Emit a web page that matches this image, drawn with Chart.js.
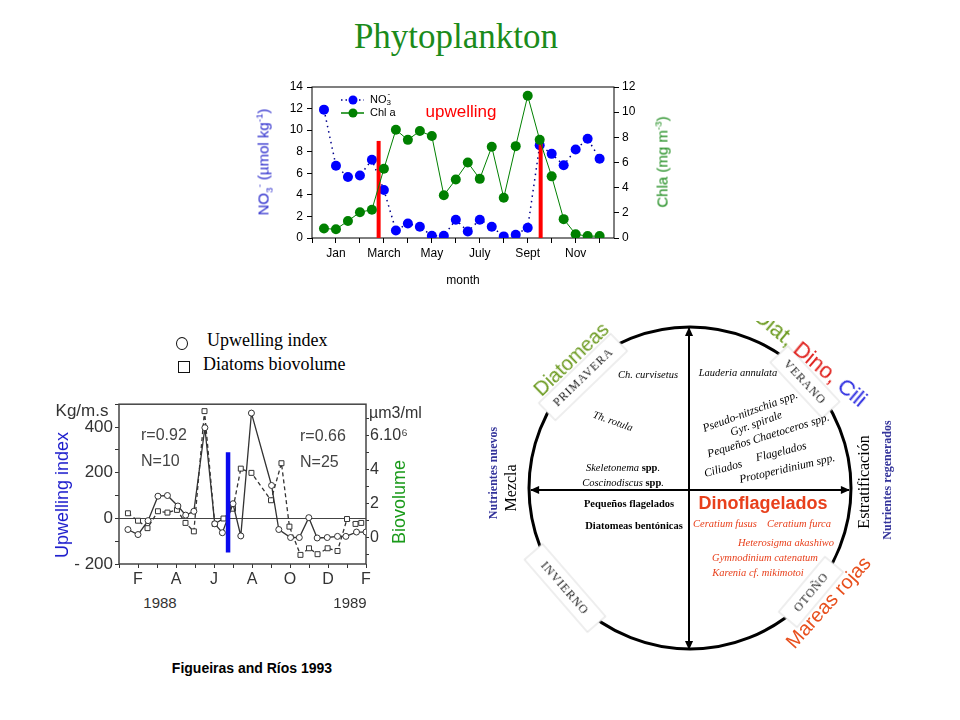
<!DOCTYPE html>
<html lang="es">
<head>
<meta charset="UTF-8">
<title>Phytoplankton</title>
<script src="https://cdn.jsdelivr.net/npm/chart.js"></script>
<style>
  body { margin:0; width:960px; height:720px; background:#fff; position:relative; overflow:hidden; font-family:"Liberation Sans", Arial, sans-serif; }
  .abs { position:absolute; white-space:nowrap; line-height:1; }
  .c { transform:translate(-50%,-50%); }
  .serif { font-family:"Liberation Serif", "Times New Roman", serif; }
  sub, sup { font-size:65%; line-height:0; }
  canvas { position:absolute; }
</style>
</head>
<body>
<div class="abs c serif" style="left:456px;top:36px;font-size:35px;color:#1b8b1b">Phytoplankton</div>

<canvas id="top" width="460" height="225" style="left:230px;top:70px"></canvas>
<div class="abs" style="left:263px;top:162px;transform:translate(-50%,-50%) rotate(-90deg);color:#2a2acc;font-size:15px">NO<sub>3</sub><sup>-</sup> (µmol kg<sup>-1</sup>)</div>
<div class="abs" style="left:662px;top:162px;transform:translate(-50%,-50%) rotate(-90deg);color:#1a8a1a;font-size:15px">Chla (mg m<sup>-3</sup>)</div>
<div class="abs c" style="left:461px;top:111px;color:#ff0000;font-size:17px">upwelling</div>
<div class="abs c" style="left:463px;top:280px;font-size:12px">month</div>

<!-- bottom left: Figueiras and Rios -->
<div class="abs" style="left:176px;top:337px;width:10px;height:11px;border:1px solid #111;border-radius:50%"></div>
<div class="abs serif" style="left:207px;top:331px;font-size:18px">Upwelling index</div>
<div class="abs" style="left:178px;top:361px;width:10px;height:10px;border:1px solid #111"></div>
<div class="abs serif" style="left:203px;top:355px;font-size:18px">Diatoms biovolume</div>
<canvas id="bot" width="400" height="200" style="left:30px;top:392px"></canvas>
<div class="abs c" style="left:82px;top:410px;font-size:17px;color:#333">Kg/m.s</div>
<div class="abs" style="left:369px;top:405px;font-size:16px;color:#333">µm3/ml</div>
<div class="abs" style="left:62px;top:495px;transform:translate(-50%,-50%) rotate(-90deg);color:#1a1acc;font-size:18px">Upwelling index</div>
<div class="abs" style="left:399px;top:502px;transform:translate(-50%,-50%) rotate(-90deg);color:#1a9a1a;font-size:18px">Biovolume</div>
<div class="abs" style="left:141px;top:427px;font-size:16px;color:#444">r=0.92</div>
<div class="abs" style="left:141px;top:453px;font-size:16px;color:#444">N=10</div>
<div class="abs" style="left:300px;top:428px;font-size:16px;color:#444">r=0.66</div>
<div class="abs" style="left:300px;top:454px;font-size:16px;color:#444">N=25</div>
<div class="abs c" style="left:160px;top:602px;font-size:15px;color:#333">1988</div>
<div class="abs c" style="left:350px;top:602px;font-size:15px;color:#333">1989</div>
<div class="abs c" style="left:252px;top:668px;font-size:14px;font-weight:bold">Figueiras and Ríos 1993</div>

<!-- right: seasonal cycle diagram -->
<svg class="abs" style="left:0;top:321px" width="960" height="399" viewBox="0 321 960 399" font-family="Liberation Serif, Times New Roman, serif">
  <defs>
    <marker id="ah" viewBox="0 0 10 10" refX="9" refY="5" markerWidth="10" markerHeight="9" orient="auto-start-reverse" markerUnits="userSpaceOnUse">
      <path d="M0,0.5 L10,5 L0,9.5 z" fill="#000"/>
    </marker>
  </defs>
  <circle cx="690" cy="488" r="161" fill="none" stroke="#000" stroke-width="3"/>
  <line x1="531" y1="490" x2="849" y2="490" stroke="#000" stroke-width="2" marker-start="url(#ah)" marker-end="url(#ah)"/>
  <line x1="689" y1="328" x2="689" y2="649" stroke="#000" stroke-width="2" marker-start="url(#ah)" marker-end="url(#ah)"/>

  <g transform="translate(583,377) rotate(-44)">
    <rect x="-50" y="-12" width="100" height="24" fill="#fff" stroke="#ddd"/>
    <text text-anchor="middle" dominant-baseline="central" font-size="12" letter-spacing="1" fill="#222">PRIMAVERA</text>
  </g>
  <g transform="translate(805,382) rotate(47)">
    <rect x="-38" y="-12" width="76" height="24" fill="#fff" stroke="#ddd"/>
    <text text-anchor="middle" dominant-baseline="central" font-size="12" letter-spacing="1" fill="#222">VERANO</text>
  </g>
  <g transform="translate(565,588) rotate(49)">
    <rect x="-48" y="-12" width="96" height="24" fill="#fff" stroke="#ddd"/>
    <text text-anchor="middle" dominant-baseline="central" font-size="12" letter-spacing="1" fill="#222">INVIERNO</text>
  </g>
  <g transform="translate(811,592) rotate(-50)">
    <rect x="-36" y="-12" width="72" height="24" fill="#fff" stroke="#ddd"/>
    <text text-anchor="middle" dominant-baseline="central" font-size="12" letter-spacing="1" fill="#222">OTOÑO</text>
  </g>

  <g font-family="Liberation Sans, Arial, sans-serif" font-size="20">
    <text transform="translate(571,359) rotate(-44)" text-anchor="middle" dominant-baseline="central" fill="#6b9a1f">Diatomeas</text>
    <text transform="translate(811,357) rotate(40)" text-anchor="middle" dominant-baseline="central" font-size="22"><tspan fill="#6b9a1f">Diat, </tspan><tspan fill="#e0201c">Dino, </tspan><tspan fill="#2a2ae0">Cili</tspan></text>
    <text transform="translate(828,602) rotate(-48)" text-anchor="middle" dominant-baseline="central" fill="#e8501e">Mareas rojas</text>
    <text x="763" y="503" text-anchor="middle" dominant-baseline="central" font-size="18" font-weight="bold" fill="#e8401c">Dinoflagelados</text>
  </g>

  <text transform="translate(493,473) rotate(-90)" text-anchor="middle" dominant-baseline="central" font-size="12" font-weight="bold" fill="#33339a">Nutrientes nuevos</text>
  <text transform="translate(510,488) rotate(-90)" text-anchor="middle" dominant-baseline="central" font-size="16">Mezcla</text>
  <text transform="translate(863,482) rotate(-90)" text-anchor="middle" dominant-baseline="central" font-size="16">Estratificación</text>
  <text transform="translate(887,480) rotate(-90)" text-anchor="middle" dominant-baseline="central" font-size="12" font-weight="bold" fill="#33339a">Nutrientes regenerados</text>

  <g font-size="10.5" font-style="italic" text-anchor="middle" dominant-baseline="central">
    <text x="648" y="374">Ch. curvisetus</text>
    <text x="738" y="372">Lauderia annulata</text>
    <text transform="translate(613,421) rotate(20)">Th. rotula</text>
    <text transform="translate(750,411) rotate(-20)" font-size="11.5">Pseudo-nitzschia spp.</text>
    <text transform="translate(756,423) rotate(-20)" font-size="11.5">Gyr. spirale</text>
    <text transform="translate(768,435) rotate(-17)" font-size="11.5">Pequeños Chaetoceros spp.</text>
    <text transform="translate(781,451) rotate(-14)" font-size="11.5">Flagelados</text>
    <text transform="translate(723,468) rotate(-15)" font-size="11.5">Ciliados</text>
    <text transform="translate(787,468) rotate(-13)" font-size="11.5">Protoperidinium spp.</text>
    <text x="623" y="467">Skeletonema <tspan font-weight="bold" font-style="normal">spp</tspan>.</text>
    <text x="623" y="482">Coscinodiscus <tspan font-weight="bold" font-style="normal">spp</tspan>.</text>
    <text x="629" y="503" font-style="normal" font-weight="bold">Pequeños flagelados</text>
    <text x="634" y="525" font-style="normal" font-weight="bold">Diatomeas bentónicas</text>
    <g fill="#e8401c">
      <text x="725" y="523">Ceratium fusus</text>
      <text x="799" y="523">Ceratium furca</text>
      <text x="786" y="542">Heterosigma akashiwo</text>
      <text x="765" y="557">Gymnodinium catenatum</text>
      <text x="758" y="572">Karenia cf. mikimotoi</text>
    </g>
  </g>
</svg>

<script>
// ---- top chart: NO3 and Chl a, semimonthly samples (x in months) ----
const sampleMonths = [0.5, 1, 1.5, 2, 2.5, 3, 3.5, 4, 4.5, 5, 5.5, 6, 6.5, 7, 7.5, 8, 8.5, 9, 9.5, 10, 10.5, 11, 11.5, 12];
const no3 = [11.9, 6.7, 5.65, 5.8, 7.25, 4.45, 0.7, 1.35, 1.05, 0.2, 0.2, 1.7, 0.6, 1.7, 1.05, 0.15, 0.3, 0.95, 8.6, 7.8, 6.75, 8.2, 9.2, 7.35];
const chla = [0.75, 0.7, 1.35, 2.05, 2.25, 5.5, 8.6, 7.8, 8.5, 8.1, 3.4, 4.65, 6.0, 4.7, 7.25, 3.2, 7.3, 11.3, 7.8, 4.9, 1.5, 0.3, 0.15, 0.15];
const upwellingEvents = [2.78, 9.54];
const upwellingHeight = 9;
const monthLabels = { 1: 'Jan', 3: 'March', 5: 'May', 7: 'July', 9: 'Sept', 11: 'Nov' };

// ---- bottom chart: upwelling index vs diatom biovolume (Figueiras & Rios 1993) ----
const upwMonths = [1.47, 2.0, 2.53, 3.05, 3.55, 4.1, 4.51, 4.94, 5.52, 6.04, 6.44, 7.0, 7.41, 7.97, 9.03, 9.41, 10.03, 10.49, 10.99, 11.43, 11.96, 12.5, 12.94, 13.5, 14.0];
const upwIndex = [-49, -71, -10, 97, 100, 54, 14, 31, 397, -24, -63, 64, -77, 461, 144, -49, -84, -84, 3, -86, -84, -79, -79, -60, -60];
const diaMonths = [1.47, 2.0, 2.5, 3.05, 3.55, 4.05, 4.5, 4.94, 5.5, 6.04, 6.5, 7.0, 7.41, 7.97, 9.0, 9.55, 9.97, 10.55, 11.0, 11.45, 11.98, 12.5, 13.0, 13.45, 13.75];
const diaBiovol = [1.42, 0.98, 0.54, 1.54, 1.46, 1.62, 0.85, 0.35, 7.46, 0.79, 1.11, 1.69, 4.06, 3.81, 2.19, 4.38, 0.63, -1.04, -0.65, -1.0, -0.65, -0.81, 1.08, 0.79, 0.85];
const shiftMonth = 6.74;
const shiftRange = [-150, 290];
const letterLabels = { 2: 'F', 4: 'A', 6: 'J', 8: 'A', 10: 'O', 12: 'D', 14: 'F' };
const leftLabels = { 400: '400', 200: '200', 0: '0', '-200': '- 200' };
const rightLabels = { 0: '0', 2: '2', 4: '4', 6: '6.10⁶' };

Chart.defaults.font.family = '"Liberation Sans", Arial, sans-serif';
const xy = (xs, ys) => xs.map((x, i) => ({ x: x, y: ys[i] }));

function framePlugin(color, width) {
  return {
    id: 'frame',
    beforeDatasetsDraw(chart) {
      const a = chart.chartArea, g = chart.ctx;
      g.save();
      g.strokeStyle = color;
      g.lineWidth = width;
      g.strokeRect(a.left, a.top, a.right - a.left, a.bottom - a.top);
      g.restore();
    }
  };
}

// little legend inside the top plot
const topLegend = {
  id: 'topLegend',
  afterDraw(chart) {
    const g = chart.ctx;
    g.save();
    const rows = [
      { y: 30, line: '#00008b', dash: [1.5, 3], dot: '#0000ff', name: 'NO', sub: '3', sup: '-' },
      { y: 43, line: '#008000', dash: [], dot: '#008000', name: 'Chl a' }
    ];
    rows.forEach(r => {
      g.strokeStyle = r.line; g.lineWidth = 1.5; g.setLineDash(r.dash);
      g.beginPath(); g.moveTo(111, r.y); g.lineTo(134, r.y); g.stroke();
      g.setLineDash([]);
      g.fillStyle = r.dot;
      g.beginPath(); g.arc(123, r.y, 4.5, 0, Math.PI * 2); g.fill();
      g.fillStyle = '#000'; g.textBaseline = 'middle'; g.textAlign = 'left';
      g.font = '11px "Liberation Sans", Arial, sans-serif';
      g.fillText(r.name, 140, r.y);
      if (r.sub) {
        const w = g.measureText(r.name).width;
        g.font = '8px "Liberation Sans", Arial, sans-serif';
        g.fillText(r.sub, 140 + w, r.y + 3);
        g.fillText(r.sup, 140 + w + 1, r.y - 6);
      }
    });
    g.restore();
  }
};

const tickFont = { size: 12 };
new Chart(document.getElementById('top'), {
  type: 'line',
  data: {
    datasets: [
      { label: 'Chl a', data: xy(sampleMonths, chla), yAxisID: 'yR', borderColor: '#008000', backgroundColor: '#008000',
        borderWidth: 1, pointRadius: 5, pointBorderWidth: 0, pointBackgroundColor: '#008000', order: 1 },
      ...upwellingEvents.map(t => ({ label: 'upwelling', data: [{ x: t, y: 0 }, { x: t, y: upwellingHeight }], yAxisID: 'yL',
        borderColor: '#ff0000', borderWidth: 4, pointRadius: 0, order: 2 })),
      { label: 'NO3', data: xy(sampleMonths, no3), yAxisID: 'yL', borderColor: '#00008b', borderDash: [1.5, 4],
        borderWidth: 1.5, pointRadius: 5, pointBorderWidth: 0, pointBackgroundColor: '#0000ff', order: 3 }
    ]
  },
  options: {
    responsive: false, animation: false, devicePixelRatio: 1,
    layout: { padding: { top: 17, left: 0, right: 0, bottom: 0 } },
    plugins: { legend: { display: false }, tooltip: { enabled: false } },
    scales: {
      x: { type: 'linear', min: 0, max: 12.6, afterFit: s => { s.height = 57; },
        ticks: { stepSize: 1, includeBounds: false, autoSkip: false, maxRotation: 0, padding: 3, color: '#000', font: tickFont,
          callback: v => monthLabels[v] || '' },
        grid: { drawOnChartArea: false, tickLength: 5, color: '#000' }, border: { display: false } },
      yL: { position: 'left', min: 0, max: 14, afterFit: s => { s.width = 82; },
        ticks: { stepSize: 2, autoSkip: false, padding: 4, color: '#000', font: tickFont },
        grid: { drawOnChartArea: false, tickLength: 5, color: '#000' }, border: { display: false } },
      yR: { position: 'right', min: 0, max: 12, afterFit: s => { s.width = 76; },
        ticks: { stepSize: 2, autoSkip: false, padding: 3, color: '#000', font: tickFont },
        grid: { drawOnChartArea: false, tickLength: 5, color: '#000' }, border: { display: false } }
    }
  },
  plugins: [framePlugin('#000', 1), topLegend]
});

const grey = '#333';
new Chart(document.getElementById('bot'), {
  type: 'line',
  data: {
    datasets: [
      { label: 'Blue bar', data: [{ x: shiftMonth, y: shiftRange[0] }, { x: shiftMonth, y: shiftRange[1] }], yAxisID: 'y',
        borderColor: '#0a0aee', borderWidth: 4.5, pointRadius: 0, order: 0 },
      { label: 'Upwelling index', data: xy(upwMonths, upwIndex), yAxisID: 'y', borderColor: grey, borderWidth: 1.3,
        pointStyle: 'circle', pointRadius: 3, pointBorderWidth: 1, pointBorderColor: grey, pointBackgroundColor: '#fff', order: 1 },
      { label: 'Diatoms biovolume', data: xy(diaMonths, diaBiovol), yAxisID: 'y2', borderColor: grey, borderWidth: 1.3,
        borderDash: [4, 3], pointStyle: 'rect', pointRadius: 3.5, pointBorderWidth: 1, pointBorderColor: grey, pointBackgroundColor: '#fff', order: 2 }
    ]
  },
  options: {
    responsive: false, animation: false, devicePixelRatio: 1,
    layout: { padding: { top: 9, left: 0, right: 0, bottom: 0 } },
    plugins: { legend: { display: false }, tooltip: { enabled: false } },
    scales: {
      x: { type: 'linear', min: 1, max: 14, afterFit: s => { s.height = 28; },
        ticks: { stepSize: 1, autoSkip: false, maxRotation: 0, padding: 2, color: grey, font: { size: 16 },
          callback: v => letterLabels[v] || '' },
        grid: { drawOnChartArea: false, tickLength: 4, color: grey }, border: { display: false } },
      y: { position: 'left', min: -200, max: 500, afterFit: s => { s.width = 89; },
        ticks: { stepSize: 100, autoSkip: false, padding: 2, color: grey, font: { size: 17 }, callback: v => leftLabels[v] || '' },
        grid: { drawOnChartArea: true, tickLength: 4, tickColor: grey,
          color: c => (c.tick && c.tick.value === 0) ? '#444' : 'rgba(0,0,0,0)' },
        border: { display: false } },
      y2: { position: 'right', min: -1.58, max: 7.87, afterFit: s => { s.width = 64; },
        ticks: { stepSize: 1, includeBounds: false, autoSkip: false, padding: 1, color: grey, font: { size: 16 }, callback: v => rightLabels[v] || '' },
        grid: { drawOnChartArea: false, tickLength: 3, color: grey }, border: { display: false } }
    }
  },
  plugins: [framePlugin('#444', 1.5)]
});
</script>
</body>
</html>
